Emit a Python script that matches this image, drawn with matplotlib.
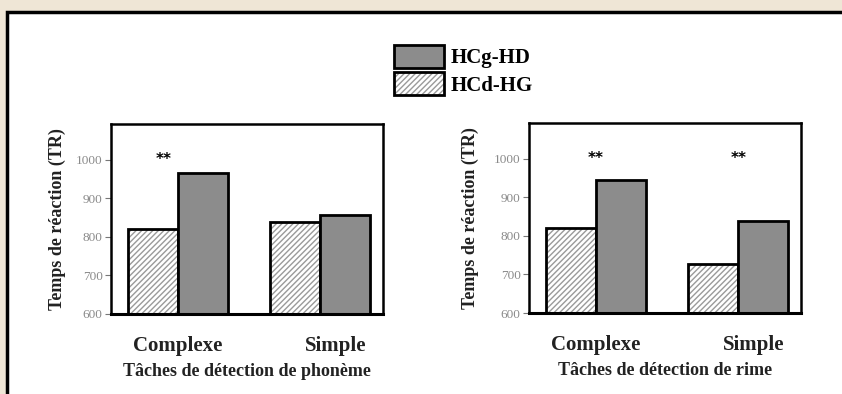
import matplotlib.pyplot as plt
from matplotlib.patches import Patch, Rectangle
from matplotlib.legend_handler import HandlerTuple
import numpy as np

# Données (temps de réaction en ms)
taches = ["Complexe", "Simple"]
phoneme_hcd_hg = [821, 840]
phoneme_hcg_hd = [967, 857]
rime_hcd_hg = [821, 727]
rime_hcg_hd = [945, 840]
etoiles_phoneme = [-0.1]        # position des "**"
etoiles_rime = [0.0, 1.0]
yticks = [600, 700, 800, 900, 1000]

plt.rcParams['font.family'] = ['Liberation Serif', 'DejaVu Serif']

gris = "#8c8c8c"
gris_hachure = "#9a9a9a"
largeur = 0.35

fig = plt.figure(figsize=(8.42, 3.94), dpi=100, facecolor="#efe6d6")

# panneau blanc avec bordure noire en haut et a gauche
fig.patches.append(Rectangle((7 / 842, -0.1), 1.2, 1.1 - 12.5 / 394,
                             transform=fig.transFigure, facecolor="white",
                             edgecolor="black", linewidth=2.5, zorder=-10))


def panneau(pos, hachure, plein, etoiles, xlabel, ypad):
    ax = fig.add_axes(pos)
    x = np.arange(len(taches))
    # barres hachurees (fond puis contour noir)
    ax.bar(x - largeur / 2, hachure, largeur, color="white",
           edgecolor=gris_hachure, hatch="//////", linewidth=0)
    ax.bar(x - largeur / 2, hachure, largeur, color="none",
           edgecolor="black", linewidth=2)
    ax.bar(x + largeur / 2, plein, largeur, color=gris,
           edgecolor="black", linewidth=2)
    for xe in etoiles:
        ax.text(xe, 1000, "**", ha="center", va="center",
                fontsize=11, fontweight="bold", family="DejaVu Sans")
    ax.set_ylim(600, 1093)
    ax.set_xlim(-0.47, 1.44)
    ax.set_yticks(yticks)
    ax.set_yticklabels([str(v) for v in yticks], color="#8a8a8a", fontsize=9.5)
    ax.tick_params(axis="y", length=4, width=0.8, color="#777777", pad=2)
    ax.set_xticks([0, 1.11])
    ax.set_xticklabels(taches, fontsize=15, fontweight="bold", color="#222222")
    ax.tick_params(axis="x", length=0, pad=16)
    ax.set_xlabel(xlabel, fontsize=13, fontweight="bold", color="#222222",
                  labelpad=5)
    ax.set_ylabel("Temps de réaction (TR)", fontsize=13, fontweight="bold",
                  color="#222222", labelpad=ypad)
    for s in ax.spines.values():
        s.set_linewidth(1.8)
    ax.spines["bottom"].set_linewidth(2.2)
    return ax


panneau([111 / 842, 1 - 314 / 394, 272 / 842, 190 / 394],
        phoneme_hcd_hg, phoneme_hcg_hd, etoiles_phoneme,
        "Tâches de détection de phonème", 7)
panneau([529 / 842, 1 - 313 / 394, 272 / 842, 190 / 394],
        rime_hcd_hg, rime_hcg_hd, etoiles_rime,
        "Tâches de détection de rime", 11)

# legende
plein_h = Patch(facecolor=gris, edgecolor="black", linewidth=2)
hach_h = (Patch(facecolor="white", edgecolor=gris_hachure, hatch="//////",
                linewidth=0),
          Patch(facecolor="none", edgecolor="black", linewidth=2))
fig.legend(handles=[plein_h, hach_h], labels=["HCg-HD", "HCd-HG"],
           handler_map={tuple: HandlerTuple(ndivide=1, pad=0)},
           loc="upper left", bbox_to_anchor=(394 / 842, 1 - 45 / 394),
           frameon=False, prop={"weight": "bold", "size": 15},
           handlelength=2.4, handleheight=1.3, handletextpad=0.3,
           labelspacing=0.2, borderpad=0, borderaxespad=0)

fig.savefig("out.png", dpi=100, facecolor=fig.get_facecolor())
